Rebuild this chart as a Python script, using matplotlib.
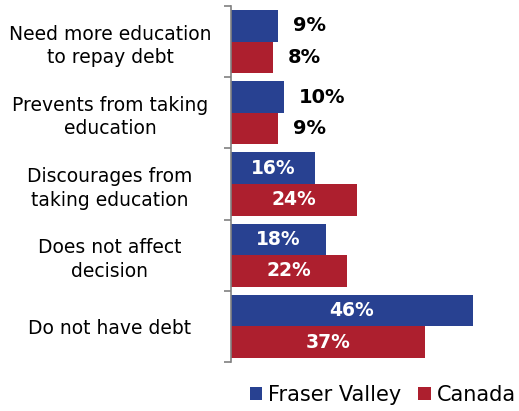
import matplotlib
matplotlib.use("Agg")
import matplotlib.pyplot as plt
import matplotlib.transforms as mtransforms
import numpy as np

categories = ["Need more education\nto repay debt", "Prevents from taking\neducation",
              "Discourages from\ntaking education", "Does not affect\ndecision", "Do not have debt"]
fraser_valley = [9, 10, 16, 18, 46]
canada = [8, 9, 24, 22, 37]
series_names = ["Fraser Valley", "Canada"]

blue = "#284191"
red = "#ad1f2e"

plt.rcParams['font.family'] = ['DejaVu Sans']
fig = plt.figure(figsize=(5.19, 4.11), dpi=100)
ax = fig.add_axes([231/519, 1-362/411, (519-231)/519, 356/411])

y = np.arange(len(categories))
h = 0.443
ax.barh(y - h/2, fraser_valley, height=h, color=blue, label=series_names[0])
ax.barh(y + h/2, canada, height=h, color=red, label=series_names[1])

ax.set_xlim(0, (519-231)/5.25)
ax.set_ylim(len(categories)-0.5, -0.5)

for vals, off in ((fraser_valley, -h/2), (canada, h/2)):
    for i, v in enumerate(vals):
        if v >= 15:
            ax.text(v/2, i+off, f"{v}%", ha="center", va="center", color="white",
                    fontsize=13.5, fontweight="bold")
        else:
            ax.text(v + 2.9, i+off, f"{v}%", ha="left", va="center", color="black",
                    fontsize=14, fontweight="bold")

for s in ["top", "right", "bottom"]:
    ax.spines[s].set_visible(False)
ax.spines["left"].set_color("#808080")
ax.spines["left"].set_linewidth(1.2)
ax.set_xticks([])
ax.set_yticks(np.arange(-0.5, len(categories)), labels=[""]*(len(categories)+1))
ax.tick_params(axis="y", which="major", length=5, color="#808080", width=1.2)
ax.set_yticks(y, labels=categories, minor=True)
ax.tick_params(axis="y", which="minor", length=0, labelsize=13.5)
for t in ax.get_yticklabels(minor=True):
    t.set_horizontalalignment("center")
    t.set_multialignment("center")
    t.set_linespacing(1.3)
    t.set_transform(mtransforms.blended_transform_factory(fig.transFigure, ax.transData))
    t.set_x(110/519)

leg = fig.legend(loc="center", bbox_to_anchor=(383/519, 1-395/411), ncol=2, frameon=False,
                 fontsize=15, handlelength=0.6, handleheight=0.6, handletextpad=0.3,
                 columnspacing=0.8, borderaxespad=0, borderpad=0)

fig.savefig("out.png", dpi=100)
